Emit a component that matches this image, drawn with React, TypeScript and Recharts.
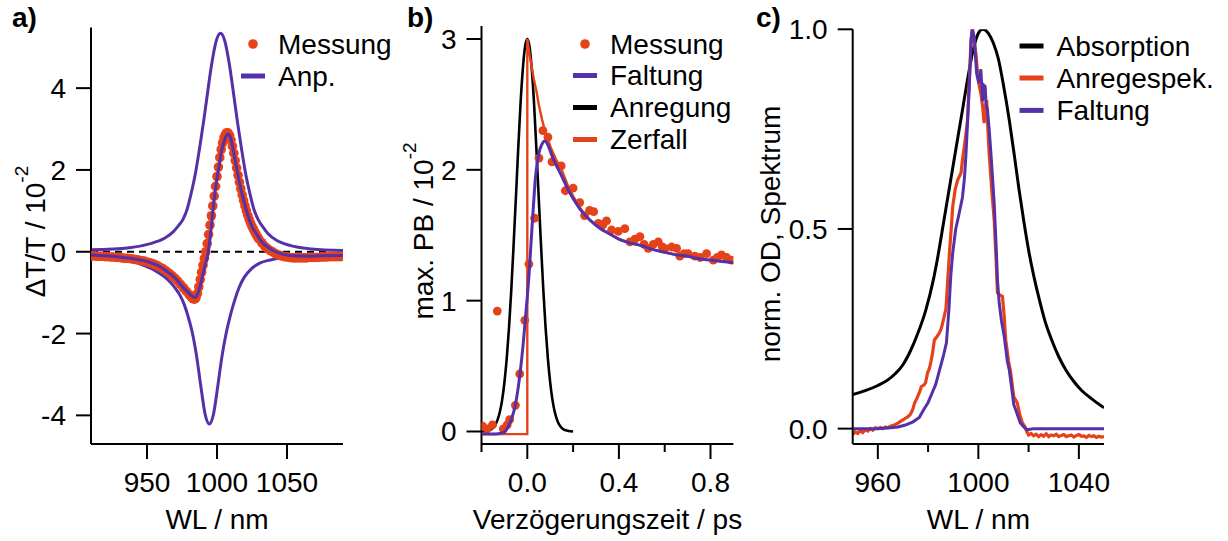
import React from 'react';
import { ComposedChart, Line, XAxis, YAxis } from 'recharts';

type Pt = [number, number];

const ORANGE = '#E6421A';
const PURPLE = '#5530A8';
const BLACK = '#000000';
const FONT = "'Liberation Sans', Arial, Helvetica, sans-serif";

// ---------- a) transient spectrum ----------
const aTicksX = [950, 1000, 1050];
const aTicksY = [-4, -2, 0, 2, 4];

const aMessung: Pt[] = [
  [910, -0.1], [912, -0.1], [914, -0.11], [916, -0.11], [918, -0.11], [920, -0.12], [922, -0.12],
  [924, -0.13], [926, -0.13], [928, -0.14], [930, -0.14], [932, -0.15], [934, -0.16], [936, -0.16],
  [938, -0.17], [940, -0.18], [942, -0.19], [944, -0.2], [946, -0.22], [948, -0.23], [950, -0.25],
  [952, -0.27], [954, -0.29], [956, -0.32], [958, -0.35], [960, -0.39], [962, -0.43], [964, -0.48],
  [966, -0.53], [968, -0.59], [970, -0.65], [972, -0.72], [974, -0.8], [976, -0.88], [978, -0.96],
  [980, -1.04], [981, -1.08], [982, -1.12], [983, -1.15], [984, -1.16], [985, -1.13], [986, -1.02],
  [987, -0.86], [988, -0.68], [989, -0.5], [990, -0.33], [991, -0.16], [992, 0.0], [993, 0.2],
  [994, 0.42], [995, 0.65], [996, 0.88], [997, 1.12], [998, 1.36], [999, 1.6], [1000, 1.84],
  [1001, 2.07], [1002, 2.3], [1003, 2.5], [1004, 2.66], [1005, 2.79], [1006, 2.87], [1007, 2.91],
  [1008, 2.9], [1009, 2.84], [1010, 2.73], [1011, 2.58], [1012, 2.41], [1013, 2.23], [1014, 2.05],
  [1015, 1.87], [1016, 1.7], [1017, 1.54], [1018, 1.39], [1019, 1.25], [1020, 1.12], [1021, 1.0],
  [1022, 0.89], [1023, 0.79], [1024, 0.7], [1025, 0.62], [1026, 0.55], [1027, 0.48], [1028, 0.42],
  [1029, 0.36], [1030, 0.31], [1032, 0.22], [1034, 0.14], [1036, 0.08], [1038, 0.03], [1040, -0.01],
  [1042, -0.05], [1044, -0.08], [1046, -0.1], [1048, -0.12], [1050, -0.13], [1052, -0.14],
  [1054, -0.15], [1056, -0.15], [1058, -0.15], [1060, -0.15], [1062, -0.15], [1064, -0.15],
  [1066, -0.14], [1068, -0.14], [1070, -0.14], [1072, -0.14], [1074, -0.13], [1076, -0.13],
  [1078, -0.13], [1080, -0.12], [1082, -0.12], [1084, -0.12], [1086, -0.12], [1088, -0.12], [1090, -0.11],
];

const aAnpassung: Pt[] = [
  [910, -0.08], [920, -0.1], [930, -0.13], [940, -0.17], [950, -0.24], [958, -0.34], [965, -0.5],
  [970, -0.64], [975, -0.84], [979, -0.98], [982, -1.08], [984.4, -1.12], [986.5, -1.0],
  [988.4, -0.78], [991, -0.4], [993.8, 0.0], [996, 0.62], [997.9, 1.26], [1000, 1.8], [1001.4, 2.08],
  [1003.5, 2.5], [1005.5, 2.75], [1008, 2.87], [1010, 2.75], [1011.8, 2.45], [1013.8, 2.08],
  [1016.3, 1.65], [1019, 1.26], [1022, 0.9], [1025, 0.62], [1028.5, 0.42], [1032, 0.24],
  [1037, 0.1], [1042, 0.0], [1048, -0.07], [1055, -0.1], [1065, -0.11], [1075, -0.1], [1090, -0.09],
];

const aObereKurve: Pt[] = [
  [910, 0.05], [937.5, 0.1], [952.5, 0.2], [962.5, 0.33], [968.5, 0.48], [972.5, 0.64],
  [975.5, 0.78], [978.5, 1.02], [981.5, 1.42], [984.5, 1.9], [987.5, 2.52], [990.5, 3.2],
  [993.5, 3.95], [996.5, 4.65], [999.5, 5.16], [1002.5, 5.34], [1005.5, 5.16], [1008.5, 4.65],
  [1011.5, 3.95], [1014.5, 3.2], [1017.5, 2.52], [1020.5, 1.9], [1023.5, 1.42], [1026.5, 1.02],
  [1029.5, 0.78], [1032.5, 0.62], [1036.5, 0.44], [1042.5, 0.28], [1052.5, 0.15], [1067.5, 0.07],
  [1090, 0.03],
];

const aUntereKurve: Pt[] = [
  [910, -0.08], [925, -0.14], [940, -0.24], [948, -0.34], [953, -0.41], [958.5, -0.52],
  [964.5, -0.67], [969.5, -0.86], [973.5, -1.06], [976.5, -1.28], [979.5, -1.6], [982.5, -2.0],
  [985.5, -2.57], [988.5, -3.3], [991.5, -3.97], [994.5, -4.21], [997.5, -3.97], [1000.5, -3.3],
  [1003.5, -2.57], [1006.5, -2.0], [1009.5, -1.56], [1012.5, -1.2], [1015.5, -0.9], [1019.5, -0.62],
  [1024.5, -0.42], [1030.5, -0.28], [1038, -0.2], [1046, -0.15], [1060, -0.12], [1075, -0.1],
  [1090, -0.08],
];

const aNulllinie: Pt[] = [[910, 0], [1078, 0]];

// ---------- b) kinetics at the bleach maximum ----------
const bTicksX = [-0.2, 0, 0.2, 0.4, 0.6, 0.8];
const bMajorX = [0, 0.4, 0.8];
const bTicksY = [0, 1, 2, 3];

const bMessung: Pt[] = [
  [-0.195, 0.04], [-0.175, 0.02], [-0.152, 0.05], [-0.131, 0.92], [-0.105, 0.02], [-0.088, 0.05],
  [-0.077, 0.09], [-0.052, 0.2], [-0.033, 0.44], [-0.011, 0.85], [0.007, 1.28], [0.032, 1.63],
  [0.051, 2.09], [0.068, 2.3], [0.09, 2.25], [0.108, 2.06], [0.148, 2.03], [0.166, 1.84],
  [0.2, 1.86], [0.229, 1.75], [0.25, 1.65], [0.272, 1.69], [0.29, 1.68], [0.31, 1.59], [0.33, 1.58],
  [0.346, 1.61], [0.368, 1.54], [0.397, 1.53], [0.426, 1.55], [0.448, 1.45], [0.47, 1.47],
  [0.492, 1.49], [0.51, 1.43], [0.528, 1.4], [0.55, 1.43], [0.572, 1.45], [0.59, 1.41], [0.601, 1.4],
  [0.63, 1.41], [0.652, 1.4], [0.666, 1.34], [0.685, 1.36], [0.702, 1.36], [0.732, 1.34],
  [0.755, 1.33], [0.783, 1.36], [0.812, 1.31], [0.83, 1.33], [0.848, 1.35], [0.87, 1.33], [0.892, 1.31],
];

const bFaltung: Pt[] = [
  [-0.2, -0.02], [-0.15, -0.02], [-0.12, -0.015], [-0.1, -0.005], [-0.085, 0.03], [-0.07, 0.09],
  [-0.055, 0.18], [-0.041, 0.32], [-0.03, 0.47], [-0.019, 0.65], [-0.01, 0.83], [0, 1.03],
  [0.01, 1.26], [0.018, 1.49], [0.027, 1.73], [0.035, 1.93], [0.045, 2.07], [0.054, 2.15],
  [0.065, 2.2], [0.076, 2.22], [0.09, 2.19], [0.105, 2.12], [0.125, 2.04], [0.148, 1.96],
  [0.175, 1.86], [0.2, 1.78], [0.23, 1.7], [0.26, 1.64], [0.29, 1.59], [0.32, 1.55], [0.36, 1.51],
  [0.4, 1.47], [0.45, 1.44], [0.5, 1.42], [0.55, 1.39], [0.6, 1.37], [0.65, 1.35], [0.7, 1.34],
  [0.75, 1.32], [0.8, 1.31], [0.85, 1.3], [0.9, 1.29],
];

const bAnregung: Pt[] = [
  [-0.2, 0], [-0.18, 0.004], [-0.16, 0.015], [-0.15, 0.028], [-0.14, 0.05], [-0.13, 0.089],
  [-0.12, 0.149], [-0.11, 0.24], [-0.1, 0.374], [-0.09, 0.555], [-0.08, 0.79], [-0.07, 1.08],
  [-0.06, 1.42], [-0.05, 1.78], [-0.04, 2.15], [-0.03, 2.49], [-0.02, 2.76], [-0.01, 2.94], [0, 3.0],
  [0.01, 2.94], [0.02, 2.76], [0.03, 2.49], [0.04, 2.15], [0.05, 1.78], [0.06, 1.42], [0.07, 1.08],
  [0.08, 0.79], [0.09, 0.555], [0.1, 0.374], [0.11, 0.24], [0.12, 0.149], [0.13, 0.089], [0.14, 0.05],
  [0.15, 0.028], [0.16, 0.015], [0.18, 0.004], [0.2, 0],
];

const bZerfall: Pt[] = [
  [-0.2, -0.02], [0, -0.02], [0, 3.0], [0.01, 2.88], [0.02, 2.78], [0.03, 2.68], [0.04, 2.6],
  [0.05, 2.5], [0.065, 2.38], [0.08, 2.28], [0.1, 2.18], [0.125, 2.08], [0.15, 2.0], [0.175, 1.89],
  [0.2, 1.8], [0.23, 1.71], [0.26, 1.64], [0.29, 1.59], [0.32, 1.55], [0.36, 1.51], [0.4, 1.47],
  [0.45, 1.44], [0.5, 1.42], [0.55, 1.39], [0.6, 1.37], [0.65, 1.35], [0.7, 1.34], [0.75, 1.32],
  [0.8, 1.31], [0.85, 1.3], [0.9, 1.29],
];

// ---------- c) absorption vs. excitation spectrum ----------
const cTicksX = [960, 980, 1000, 1020, 1040];
const cMajorX = [960, 1000, 1040];
const cTicksY = [0, 0.5, 1.0];

const cAbsorption: Pt[] = [
  [950, 0.085], [955, 0.095], [960, 0.108], [964, 0.122], [967, 0.138], [970, 0.16], [973, 0.195],
  [976, 0.24], [979, 0.295], [982, 0.37], [984, 0.435], [986, 0.51], [988, 0.585], [990, 0.66],
  [992, 0.735], [994, 0.81], [996, 0.885], [998, 0.95], [1000, 0.99], [1001.7, 1.0], [1004, 0.99],
  [1006, 0.965], [1008, 0.925], [1010, 0.86], [1012.3, 0.773], [1014.3, 0.685], [1016.2, 0.598],
  [1018.2, 0.515], [1020.2, 0.44], [1022.2, 0.378], [1024.2, 0.325], [1026.5, 0.27], [1029, 0.225],
  [1032, 0.18], [1035, 0.145], [1038, 0.118], [1041, 0.096], [1045, 0.075], [1050, 0.052],
];

const cAnregespek: Pt[] = [
  [950, -0.015], [951, -0.008], [952, -0.012], [953, -0.005], [954, -0.01], [955, -0.003],
  [956, -0.006], [957, 0.0], [958, -0.004], [959, 0.002], [960, 0.0], [961, 0.003], [962, 0.0],
  [963, 0.004], [964, 0.002], [965, 0.006], [966, 0.008], [967, 0.01], [968, 0.014], [969, 0.018],
  [970, 0.022], [971, 0.026], [972, 0.03], [973, 0.036], [974, 0.05], [974.6, 0.064], [975.5, 0.075],
  [976.5, 0.09], [977.3, 0.105], [978.5, 0.11], [979, 0.115], [979.8, 0.14], [980.5, 0.15],
  [981.2, 0.17], [981.8, 0.19], [982.5, 0.222], [983.5, 0.23], [984.5, 0.24], [985.2, 0.25],
  [986, 0.27], [987.1, 0.3], [987.8, 0.37], [988.5, 0.44], [989.2, 0.5], [989.8, 0.556],
  [990.8, 0.6], [991.8, 0.623], [993.1, 0.64], [993.8, 0.68], [994.4, 0.706], [995.1, 0.74],
  [995.7, 0.773], [996.4, 0.87], [997.1, 0.974], [997.7, 1.0], [998.3, 0.97], [999, 0.94],
  [999.7, 0.89], [1000.4, 0.857], [1001, 0.84], [1001.7, 0.806], [1002.3, 0.765], [1002.8, 0.8],
  [1003.3, 0.823], [1003.8, 0.75], [1004.3, 0.69], [1005.3, 0.6], [1006.3, 0.523], [1007, 0.43],
  [1007.6, 0.34], [1008.5, 0.335], [1009.6, 0.331], [1010.3, 0.28], [1010.9, 0.222], [1012, 0.17],
  [1012.9, 0.139], [1014.1, 0.08], [1015.5, 0.064], [1016.5, 0.035], [1017.5, 0.015],
  [1018.5, 0.005], [1019.3, -0.008], [1020, -0.016], [1021, -0.012], [1022, -0.018], [1023, -0.014],
  [1024, -0.02], [1025, -0.015], [1026, -0.019], [1027, -0.013], [1028, -0.02], [1029, -0.016],
  [1030, -0.018], [1031, -0.014], [1032, -0.02], [1033, -0.017], [1034, -0.015], [1035, -0.02],
  [1036, -0.018], [1037, -0.016], [1038, -0.021], [1039, -0.017], [1040, -0.015], [1041, -0.019],
  [1042, -0.018], [1043, -0.022], [1044, -0.017], [1045, -0.02], [1046, -0.018], [1047, -0.022],
  [1048, -0.019], [1049, -0.021], [1050, -0.02],
];

const cFaltung: Pt[] = [
  [950, 0.0], [955, 0.0], [960, 0.0], [965, 0.002], [968, 0.004], [971, 0.009], [974, 0.017],
  [976.5, 0.028], [978, 0.045], [980, 0.065], [981.5, 0.088], [983, 0.11], [984.5, 0.145],
  [986, 0.18], [987.3, 0.215], [988.3, 0.3], [989, 0.38], [989.8, 0.44], [991, 0.5], [992.4, 0.54],
  [993.7, 0.58], [994.5, 0.63], [995.1, 0.69], [995.8, 0.78], [996.4, 0.86], [997.1, 0.97],
  [997.5, 1.0], [998.4, 0.98], [999.3, 0.89], [1000, 0.87], [1000.4, 0.873], [1001, 0.9],
  [1001.7, 0.82], [1002.2, 0.86], [1002.7, 0.857], [1003.1, 0.81], [1003.6, 0.8], [1004.3, 0.75],
  [1005, 0.69], [1006.3, 0.565], [1007.2, 0.44], [1007.6, 0.373], [1008.3, 0.314], [1009.2, 0.27],
  [1010.3, 0.231], [1011.5, 0.17], [1012.3, 0.147], [1013.3, 0.1], [1014.1, 0.06], [1015, 0.045],
  [1016.7, 0.014], [1018, 0.005], [1019.4, -0.003], [1022, 0.0], [1030, 0.0], [1040, 0.0], [1050, 0.0],
];

const toXY = (pts: Pt[]) => pts.map(([x, y]) => ({ x, y }));

const AXIS_LINE = { stroke: BLACK, strokeWidth: 2 };
const TEXT = { fontFamily: FONT, fontSize: 28, fill: BLACK };
const Y_AXIS_W = 60;
const X_AXIS_H = 40;

function xTick(majors: number[], fmt: (v: number) => string) {
  return (p: any) => {
    const v = p.payload.value;
    const major = majors.some((m) => Math.abs(m - v) < 1e-9);
    return (
      <g>
        <line x1={p.x} x2={p.x} y1={p.y} y2={p.y + (major ? 15 : 8)} stroke={BLACK} strokeWidth={2} />
        {major && (
          <text x={p.x} y={p.y + 48} textAnchor="middle" {...TEXT}>
            {fmt(v)}
          </text>
        )}
      </g>
    );
  };
}

function yTick(fmt: (v: number) => string) {
  return (p: any) => (
    <g>
      <line x1={p.x - 15} x2={p.x} y1={p.y} y2={p.y} stroke={BLACK} strokeWidth={2} />
      <text x={p.x - 25} y={p.y + 10} textAnchor="end" {...TEXT}>
        {fmt(p.payload.value)}
      </text>
    </g>
  );
}

const markerDot = (r: number) => (props: any) => (
  <circle key={`m-${props.index}`} cx={props.cx} cy={props.cy} r={r} fill={ORANGE} />
);

type Margin = { top: number; right: number; bottom: number; left: number };

type PanelProps = {
  margin: Margin;
  xDomain: [number, number];
  yDomain: [number, number];
  xTicks: number[];
  xMajor: number[];
  yTicks: number[];
  fmtX: (v: number) => string;
  fmtY: (v: number) => string;
  children: React.ReactNode;
  front?: React.ReactNode;
};

// Each panel is one chart with axes; curves that must sit above the measured
// points go into a second, axis-less chart sharing the same plot rectangle.
function Panel({ margin, xDomain, yDomain, xTicks, xMajor, yTicks, fmtX, fmtY, children, front }: PanelProps) {
  const frontMargin: Margin = {
    top: margin.top,
    right: margin.right,
    bottom: margin.bottom + X_AXIS_H,
    left: margin.left + Y_AXIS_W,
  };
  return (
    <>
      <div style={{ position: 'absolute', left: 0, top: 0 }}>
        <ComposedChart width={1228} height={541} margin={margin}>
          <XAxis
            type="number"
            dataKey="x"
            domain={xDomain}
            ticks={xTicks}
            allowDataOverflow
            interval={0}
            tickLine={false}
            tickSize={0}
            tickMargin={0}
            axisLine={AXIS_LINE}
            tick={xTick(xMajor, fmtX)}
            height={X_AXIS_H}
          />
          <YAxis
            type="number"
            domain={yDomain}
            ticks={yTicks}
            allowDataOverflow
            interval={0}
            tickLine={false}
            tickSize={0}
            tickMargin={0}
            axisLine={AXIS_LINE}
            tick={yTick(fmtY)}
            width={Y_AXIS_W}
          />
          {children}
        </ComposedChart>
      </div>
      {front && (
        <div style={{ position: 'absolute', left: 0, top: 0 }}>
          <ComposedChart width={1228} height={541} margin={frontMargin}>
            <XAxis type="number" dataKey="x" domain={xDomain} allowDataOverflow hide />
            <YAxis type="number" domain={yDomain} allowDataOverflow hide />
            {front}
          </ComposedChart>
        </div>
      )}
    </>
  );
}

const lineProps = { dataKey: 'y', dot: false, activeDot: false, isAnimationActive: false } as const;

function LegendLine({ x, y, color, label }: { x: number; y: number; color: string; label: string }) {
  return (
    <g>
      <line x1={x} x2={x + 24} y1={y} y2={y} stroke={color} strokeWidth={5} />
      <text x={x + 37} y={y + 9.5} {...TEXT}>{label}</text>
    </g>
  );
}

function LegendDot({ x, y, label }: { x: number; y: number; label: string }) {
  return (
    <g>
      <circle cx={x + 12} cy={y} r={4.8} fill={ORANGE} />
      <text x={x + 37} y={y + 9.5} {...TEXT}>{label}</text>
    </g>
  );
}

export default function App() {
  return (
    <div style={{ position: 'absolute', left: 0, top: 0, width: 1228, height: 541, background: '#fff', fontFamily: FONT }}>
      {/* a) */}
      <Panel
        margin={{ top: 27.6, right: 885, bottom: 57, left: 31 }}
        xDomain={[910, 1090]}
        yDomain={[-4.7, 5.48]}
        xTicks={aTicksX}
        xMajor={aTicksX}
        yTicks={aTicksY}
        fmtX={(v) => String(v)}
        fmtY={(v) => String(v)}
        front={
          <Line {...lineProps} data={toXY(aAnpassung)} type="monotone" stroke={PURPLE} strokeWidth={3} />
        }
      >
        <Line {...lineProps} data={toXY(aNulllinie)} type="linear" stroke={BLACK} strokeWidth={2} strokeDasharray="7 5" />
        <Line {...lineProps} data={toXY(aObereKurve)} type="monotone" stroke={PURPLE} strokeWidth={3} />
        <Line {...lineProps} data={toXY(aUntereKurve)} type="monotone" stroke={PURPLE} strokeWidth={3} />
        <Line
          dataKey="y"
          data={toXY(aMessung)}
          type="linear"
          stroke="none"
          dot={markerDot(4.8)}
          activeDot={false}
          isAnimationActive={false}
        />
      </Panel>

      {/* b) */}
      <Panel
        margin={{ top: 25.9, right: 494.6, bottom: 57, left: 421.5 }}
        xDomain={[-0.2, 0.9]}
        yDomain={[-0.0956, 3.1]}
        xTicks={bTicksX}
        xMajor={bMajorX}
        yTicks={bTicksY}
        fmtX={(v) => v.toFixed(1)}
        fmtY={(v) => String(v)}
        front={
          <Line {...lineProps} data={toXY(bFaltung)} type="monotone" stroke={PURPLE} strokeWidth={3} />
        }
      >
        <Line {...lineProps} data={toXY(bAnregung)} type="monotone" stroke={BLACK} strokeWidth={2.6} />
        <Line {...lineProps} data={toXY(bZerfall)} type="linear" stroke={ORANGE} strokeWidth={2.4} />
        <Line
          dataKey="y"
          data={toXY(bMessung)}
          type="linear"
          stroke="none"
          dot={markerDot(4.4)}
          activeDot={false}
          isAnimationActive={false}
        />
      </Panel>

      {/* c) */}
      <Panel
        margin={{ top: 29.3, right: 124, bottom: 57, left: 792.7 }}
        xDomain={[950, 1050]}
        yDomain={[-0.0385, 1.0]}
        xTicks={cTicksX}
        xMajor={cMajorX}
        yTicks={cTicksY}
        fmtX={(v) => String(v)}
        fmtY={(v) => v.toFixed(1)}
      >
        <Line {...lineProps} data={toXY(cAbsorption)} type="monotone" stroke={BLACK} strokeWidth={3} />
        <Line {...lineProps} data={toXY(cAnregespek)} type="linear" stroke={ORANGE} strokeWidth={3.2} />
        <Line {...lineProps} data={toXY(cFaltung)} type="linear" stroke={PURPLE} strokeWidth={3} />
      </Panel>

      {/* titles, panel letters and legends */}
      <svg width={1228} height={541} style={{ position: 'absolute', left: 0, top: 0, pointerEvents: 'none' }}>
        <text x={12} y={27} {...TEXT} fontWeight="bold">a)</text>
        <text x={407} y={27} {...TEXT} fontWeight="bold">b)</text>
        <text x={756} y={27} {...TEXT} fontWeight="bold">c)</text>

        <text x={217} y={529} textAnchor="middle" {...TEXT}>WL / nm</text>
        <text x={607.5} y={529} textAnchor="middle" {...TEXT}>Verzögerungszeit / ps</text>
        <text x={978.4} y={529} textAnchor="middle" {...TEXT}>WL / nm</text>

        <text transform="translate(45,231.5) rotate(-90)" textAnchor="middle" {...TEXT}>
          ΔT/T / 10<tspan fontSize={19} dy={-17}>-2</tspan>
        </text>
        <text transform="translate(433,231) rotate(-90)" textAnchor="middle" {...TEXT}>
          max. PB / 10<tspan fontSize={19} dy={-17}>-2</tspan>
        </text>
        <text transform="translate(780,234) rotate(-90)" textAnchor="middle" {...TEXT}>
          norm. OD, Spektrum
        </text>

        <LegendDot x={241} y={44} label="Messung" />
        <LegendLine x={241} y={76} color={PURPLE} label="Anp." />

        <LegendDot x={573} y={44} label="Messung" />
        <LegendLine x={573} y={75.5} color={PURPLE} label="Faltung" />
        <LegendLine x={573} y={107.5} color={BLACK} label="Anregung" />
        <LegendLine x={573} y={139.5} color={ORANGE} label="Zerfall" />

        <LegendLine x={1019.5} y={46} color={BLACK} label="Absorption" />
        <LegendLine x={1019.5} y={78} color={ORANGE} label="Anregespek." />
        <LegendLine x={1019.5} y={110.4} color={PURPLE} label="Faltung" />
      </svg>
    </div>
  );
}
